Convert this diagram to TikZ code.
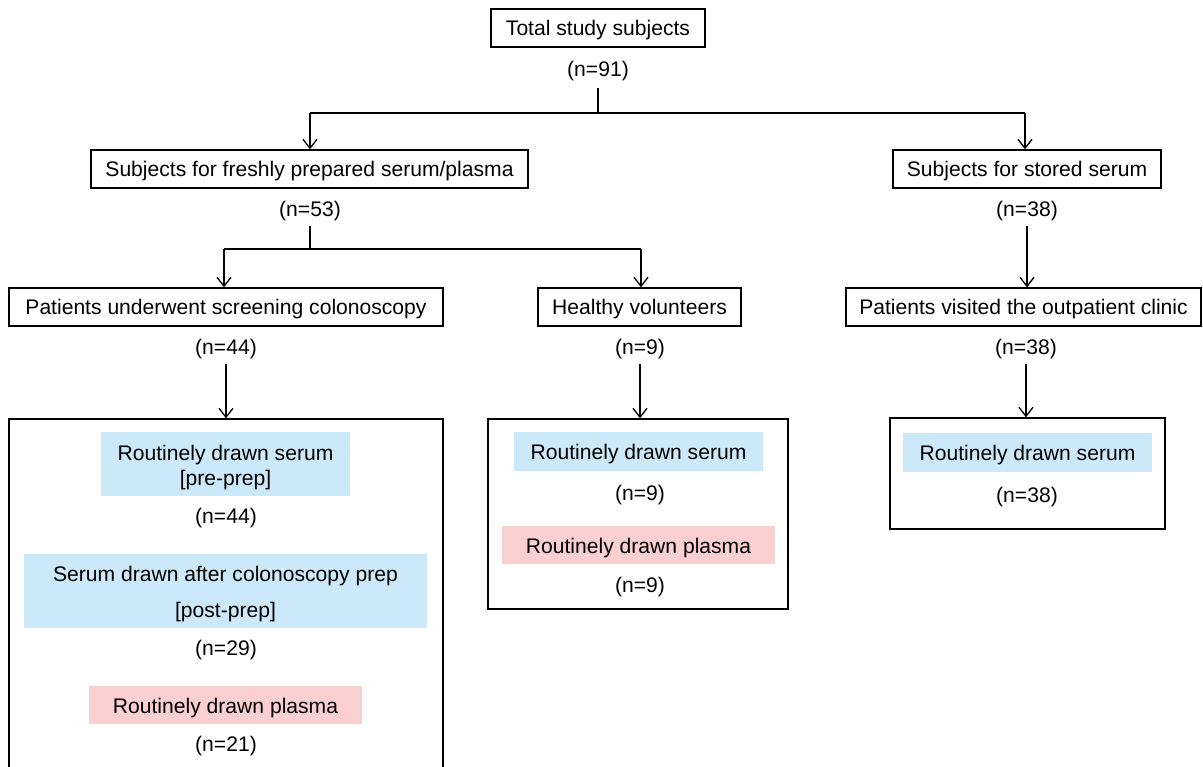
\documentclass[tikz,border=0pt]{standalone}
\usepackage{fontspec}
\setmainfont{Liberation Sans}
\usetikzlibrary{arrows.meta}
\definecolor{serumblue}{RGB}{204,233,250}
\definecolor{plasmapink}{RGB}{250,207,207}
\begin{document}
\begin{tikzpicture}[x=1pt,y=-1pt,
  every node/.style={font=\fontsize{21.1}{25}\selectfont, text height=15.2pt, text depth=4.4pt},
  oneline/.style={text height=16pt, text depth=0pt},
  box/.style={oneline, draw=black, line width=1.3pt, inner sep=0pt, minimum height=38pt},
  frame/.style={draw=black, line width=1.3pt, inner sep=0pt},
  bluebox/.style={oneline, fill=serumblue, inner sep=0pt, align=center},
  pinkbox/.style={oneline, fill=plasmapink, inner sep=0pt, align=center},
  twoline/.style={text height=, text depth=},
  count/.style={inner sep=5pt},
  conn/.style={line width=1.3pt},
  arr/.style={line width=1.3pt, -{Straight Barb[length=9pt,width=14pt]}}
]
\useasboundingbox (0,0) rectangle (1203,767);

% level 0
\node[box, minimum width=214pt] (total) at (598,28) {Total study subjects};
\node[count, inner sep=7pt] (n91) at (598,71) {(n=91)};

% level 1
\node[box, minimum width=437pt] (fresh) at (309.5,169) {Subjects for freshly prepared serum/plasma};
\node[count] (n53) at (310,211) {(n=53)};
\node[box, minimum width=268pt] (stored) at (1027,169) {Subjects for stored serum};
\node[count] (n38a) at (1027,211) {(n=38)};

% level 2
\node[box, minimum width=434pt] (colon) at (226,307) {Patients underwent screening colonoscopy};
\node[count] (n44a) at (226,349) {(n=44)};
\node[box, minimum width=203pt] (healthy) at (639.5,307) {Healthy volunteers};
\node[count] (n9a) at (640,349) {(n=9)};
\node[box, minimum width=355pt] (outpt) at (1023.5,307) {Patients visited the outpatient clinic};
\node[count] (n38b) at (1026,349) {(n=38)};

% frames
\node[frame, minimum width=434pt, minimum height=355pt] (leftframe) at (226,596.5) {};
\node[frame, minimum width=300pt, minimum height=190pt] (midframe) at (638,514) {};
\node[frame, minimum width=275pt, minimum height=111pt] (rightframe) at (1027.5,473.5) {};

% left frame contents
\node[bluebox, twoline, minimum width=249pt, minimum height=64pt] (lpre) at (225.5,464) {\rule{0pt}{21.5pt}Routinely drawn serum\\[0pt][pre-prep]};
\node (n44b) at (226,518) {(n=44)};
\node[bluebox, twoline, minimum width=403pt, minimum height=74pt] (lpost) at (225.5,591) {\rule{0pt}{22pt}Serum drawn after colonoscopy prep\\[11pt][post-prep]};
\node (n29) at (226,650) {(n=29)};
\node[pinkbox, minimum width=273pt, minimum height=38pt] (lplasma) at (225.5,705) {Routinely drawn plasma};
\node (n21) at (226,746) {(n=21)};

% middle frame contents
\node[bluebox, minimum width=249pt, minimum height=39pt] (mserum) at (638.5,451.5) {Routinely drawn serum};
\node (n9b) at (640,495) {(n=9)};
\node[pinkbox, minimum width=273pt, minimum height=38pt] (mplasma) at (638.5,545) {Routinely drawn plasma};
\node (n9c) at (640,587) {(n=9)};

% right frame contents
\node[bluebox, minimum width=249pt, minimum height=39pt] (rserum) at (1027.5,452.5) {Routinely drawn serum};
\node (n38c) at (1027,497) {(n=38)};

% connectors
\coordinate (j1) at (598,113);
\coordinate (j1l) at (310,113);
\coordinate (j1r) at (1025,113);
\draw[conn] (n91.south) -- (j1);
\draw[conn] (j1l) -- (j1r);
\draw[arr] (j1l) -- (j1l |- fresh.north);
\draw[arr] (j1r) -- (j1r |- stored.north);

\coordinate (j2) at (310,249);
\coordinate (j2l) at (224,249);
\coordinate (j2r) at (641,249);
\draw[conn] (n53.south) -- (j2);
\draw[conn] (j2l) -- (j2r);
\draw[arr] (j2l) -- (j2l |- colon.north);
\draw[arr] (j2r) -- (j2r |- healthy.north);

\draw[arr] (n38a.south) -- (n38a.south |- outpt.north);
\draw[arr] (n44a.south) -- (n44a.south |- leftframe.north);
\draw[arr] (n9a.south) -- (n9a.south |- midframe.north);
\draw[arr] (n38b.south) -- (n38b.south |- rightframe.north);
\end{tikzpicture}
\end{document}
